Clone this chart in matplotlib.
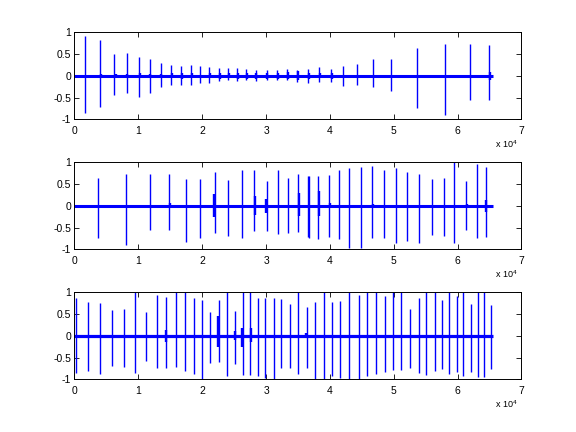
import matplotlib
matplotlib.use("Agg")
import matplotlib.pyplot as plt

plt.rcParams["font.family"] = ["Liberation Sans", "DejaVu Sans"]
plt.rcParams["mathtext.default"] = "regular"

N_SAMPLES = 65536
BLUE = "#0000ff"

# spike positions (x 1e4 samples), positive and negative peaks
p1_pos = [0.167, 0.406, 0.62, 0.823, 1.01, 1.18, 1.354, 1.51, 1.67, 1.83, 1.96,
          2.10, 2.26, 2.40, 2.54, 2.68, 2.84, 3.01, 3.17, 3.33, 3.49, 3.66, 3.83,
          4.02, 4.21, 4.43, 4.68, 4.96, 5.37, 5.81, 6.19, 6.49]
p1_top = [0.925, 0.82, 0.50, 0.52, 0.43, 0.39, 0.29, 0.25, 0.23, 0.25, 0.22,
          0.20, 0.19, 0.17, 0.17, 0.15, 0.14, 0.14, 0.14, 0.15, 0.14, 0.16, 0.20,
          0.16, 0.23, 0.27, 0.38, 0.38, 0.63, 0.72, 0.72, 0.70]
p1_bot = [-0.865, -0.714, -0.44, -0.40, -0.49, -0.40, -0.26, -0.22, -0.20, -0.21, -0.17,
          -0.17, -0.13, -0.10, -0.13, -0.10, -0.13, -0.10, -0.10, -0.10, -0.14, -0.17, -0.14,
          -0.14, -0.24, -0.20, -0.26, -0.35, -0.74, -0.89, -0.56, -0.56]
# short, thicker bursts next to the spikes
p1_sec_pos = [0.42, 0.65, 0.83, 1.02, 1.19, 1.36, 1.53, 1.69, 1.84, 2.12, 2.28, 2.42,
              2.56, 2.70, 2.85, 3.02, 3.18, 3.34, 3.50, 3.67, 3.84, 4.04, 6.50]
p1_sec_top = [0.05, 0.04, 0.05, 0.06, 0.05, 0.05, 0.06, 0.07, 0.06, 0.06, 0.07, 0.06,
              0.07, 0.07, 0.07, 0.07, 0.07, 0.08, 0.10, 0.07, 0.06, 0.07, 0.09]
p1_sec_bot = [-0.04, -0.04, -0.04, -0.05, -0.05, -0.05, -0.06, -0.07, -0.06, -0.06, -0.07, -0.06,
              -0.07, -0.07, -0.07, -0.07, -0.07, -0.08, -0.10, -0.07, -0.06, -0.07, -0.09]

p2_pos = [0.37, 0.807, 1.18, 1.48, 1.745, 1.96, 2.20, 2.40, 2.62, 2.81, 3.01, 3.18,
          3.34, 3.50, 3.66, 3.675, 3.82, 3.99, 4.15, 4.30, 4.48, 4.66, 4.84, 5.03, 5.21,
          5.40, 5.60, 5.78, 5.95, 6.13, 6.30, 6.44]
p2_top = [0.64, 0.72, 0.72, 0.72, 0.61, 0.61, 0.77, 0.59, 0.83, 0.82, 0.56, 0.82,
          0.65, 0.74, 0.68, 0.69, 0.68, 0.70, 0.82, 0.88, 0.90, 0.91, 0.83, 0.88, 0.77,
          0.74, 0.61, 0.63, 1.0, 0.56, 0.95, 0.90]
p2_bot = [-0.74, -0.89, -0.56, -0.56, -0.83, -0.74, -0.63, -0.69, -0.74, -0.59, -0.59, -0.65,
          -0.62, -0.61, -0.72, -0.74, -0.77, -0.71, -0.77, -0.97, -0.97, -0.74, -0.74, -0.85, -0.80,
          -0.85, -0.67, -0.69, -0.85, -0.56, -0.74, -0.71]
p2_sec_pos = [1.49, 2.19, 2.82, 3.005, 3.51, 3.835, 4.0, 4.68, 6.14, 6.45]
p2_sec_top = [0.07, 0.27, 0.22, 0.16, 0.30, 0.33, 0.06, 0.04, 0.05, 0.13]
p2_sec_bot = [-0.05, -0.25, -0.22, -0.17, -0.23, -0.23, -0.05, -0.04, -0.04, -0.15]

p3_pos = [0.026, 0.214, 0.40, 0.59, 0.776, 0.953, 1.12, 1.29, 1.43, 1.59, 1.73, 1.87,
          2.00, 2.12, 2.26, 2.39, 2.51, 2.64, 2.75, 2.87, 2.99, 3.12, 3.24, 3.375,
          3.50, 3.64, 3.77, 3.90, 4.04, 4.16, 4.30, 4.45, 4.58, 4.72, 4.86, 4.99,
          5.12, 5.26, 5.39, 5.51, 5.64, 5.76, 5.87, 5.99, 6.09, 6.21, 6.32, 6.42, 6.53]
p3_top = [0.86, 0.78, 0.75, 0.59, 0.61, 1.0, 0.55, 0.93, 0.89, 1.0, 1.0, 0.86,
          0.82, 0.55, 0.82, 1.0, 0.58, 1.0, 1.0, 0.86, 0.86, 0.86, 0.84, 0.73,
          1.0, 0.66, 0.77, 1.0, 0.77, 0.80, 1.0, 0.93, 1.0, 1.0, 0.91, 1.0,
          1.0, 0.61, 0.86, 1.0, 1.0, 0.82, 1.0, 0.91, 1.0, 0.73, 1.0, 1.0, 0.70]
p3_bot = [-0.86, -0.81, -0.88, -0.70, -0.72, -0.86, -0.58, -0.74, -0.74, -0.72, -0.81, -0.88,
          -1.0, -0.63, -0.60, -0.92, -0.65, -0.90, -0.90, -0.92, -0.97, -1.0, -0.74, -0.74,
          -0.88, -0.74, -1.0, -1.0, -0.92, -0.97, -1.0, -1.0, -0.92, -0.88, -0.83, -0.79,
          -0.79, -0.74, -0.86, -0.90, -0.81, -0.77, -0.88, -0.83, -0.92, -0.83, -0.95, -0.95, -0.77]
p3_sec_pos = [1.44, 2.25, 2.52, 2.63, 2.76, 3.63]
p3_sec_top = [0.13, 0.45, 0.10, 0.17, 0.17, 0.06]
p3_sec_bot = [-0.15, -0.25, -0.10, -0.26, -0.15, -0.06]

x_ticks = [0, 1, 2, 3, 4, 5, 6, 7]
y_ticks = [-1, -0.5, 0, 0.5, 1]
y_tick_labels = ["-1", "-0.5", "0", "0.5", "1"]

panels = [
    (p1_pos, p1_top, p1_bot, p1_sec_pos, p1_sec_top, p1_sec_bot, 2.2),
    (p2_pos, p2_top, p2_bot, p2_sec_pos, p2_sec_top, p2_sec_bot, 2.2),
    (p3_pos, p3_top, p3_bot, p3_sec_pos, p3_sec_top, p3_sec_bot, 2.3),
]
bottoms = [0.7238, 0.4229, 0.1220]

fig = plt.figure(figsize=(5.76, 4.32), dpi=100)
for (pos, top, bot, spos, stop, sbot, base_lw), b in zip(panels, bottoms):
    ax = fig.add_axes([0.1293, b, 0.776, 0.2014])
    ax.plot([0, N_SAMPLES], [0, 0], color=BLUE, lw=base_lw, solid_capstyle="butt")
    ax.vlines([p * 1e4 for p in pos], bot, top, colors=BLUE, lw=1.0)
    ax.vlines([p * 1e4 for p in spos], sbot, stop, colors=BLUE, lw=1.7)
    ax.set_xlim(0, 7e4)
    ax.set_ylim(-1, 1)
    ax.set_xticks([t * 1e4 for t in x_ticks])
    ax.set_xticklabels([str(t) for t in x_ticks])
    ax.set_yticks(y_ticks)
    ax.set_yticklabels(y_tick_labels)
    ax.tick_params(direction="in", length=3.6, width=0.6, labelsize=7.5,
                   top=True, right=True, pad=2.5)
    ax.tick_params(axis="x", pad=5)
    for s in ax.spines.values():
        s.set_linewidth(0.7)
    ax.annotate(r"x 10$^{4}$", xy=(1, 0), xycoords="axes fraction",
                xytext=(-2.5, -20.5), textcoords="offset points",
                ha="right", va="baseline", fontsize=6.5)

fig.savefig("out.png", dpi=100)
